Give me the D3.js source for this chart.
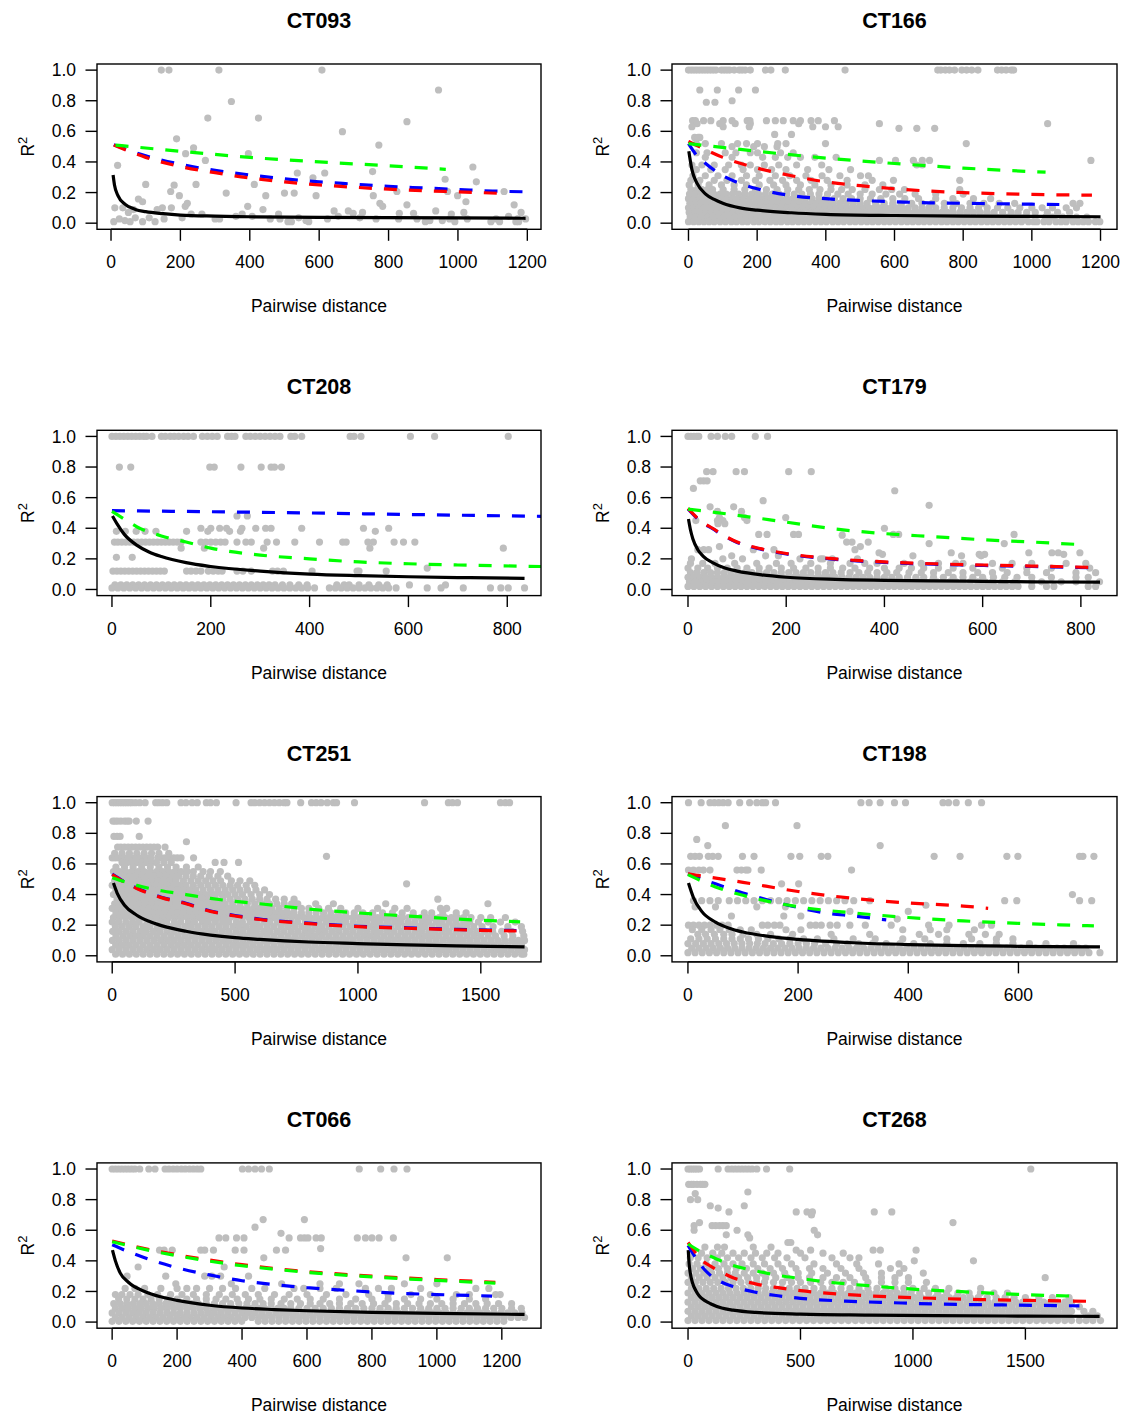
<!DOCTYPE html>
<meta charset="utf-8">
<style>

body {
  margin: 0;
  background: #fff;
}

text {
  font-family: "Liberation Sans", Arial, sans-serif;
  fill: #000;
}

.title {
  font-weight: bold;
  font-size: 21.5px;
  text-anchor: middle;
}

.tick-label {
  font-size: 17.5px;
}

</style>
<body>
<script src="https://d3js.org/d3.v7.min.js"></script>
<script>

// ---- data: panel names, x ranges and tick values ----
var names = ["CT093", "CT166", "CT208", "CT179", "CT251", "CT198", "CT066", "CT268"];

var xRanges = [[7, 1192], [0, 1200], [3, 835], [1, 840], [5, 1678], [1, 749], [4, 1270], [2, 1834]];

var xTickVals = [
  [0, 200, 400, 600, 800, 1000, 1200],
  [0, 200, 400, 600, 800, 1000, 1200],
  [0, 200, 400, 600, 800],
  [0, 200, 400, 600, 800],
  [0, 500, 1000, 1500],
  [0, 200, 400, 600],
  [0, 200, 400, 600, 800, 1000, 1200],
  [0, 500, 1000, 1500]
];

var yTickVals = [0, 0.2, 0.4, 0.6, 0.8, 1.0];

// ---- scatter points, one row per R2 level: [r2, distance, distance, ...] ----
var pts_CT093 = [
  [1.0, 145, 167, 311, 608],
  [0.87, 944], [0.795, 347], [0.687, 279, 425], [0.663, 853], [0.598, 667], [0.551, 189],
  [0.51, 772], [0.492, 238], [0.454, 215, 396], [0.41, 272], [0.378, 19], [0.367, 1043],
  [0.337, 754], [0.328, 537, 616], [0.296, 582], [0.287, 963], [0.27, 1053],
  [0.253, 100, 245, 413], [0.248, 182], [0.207, 172, 824, 970, 1133], [0.197, 332, 500, 528],
  [0.18, 197, 446, 591, 756, 999], [0.158, 79], [0.14, 91, 1023], [0.13, 220, 775],
  [0.12, 853, 1162], [0.11, 214, 394, 783], [0.10, 11, 34, 148, 174], [0.089, 65, 133, 438],
  [0.08, 643, 684, 936], [0.07, 50, 725, 1017, 1182], [0.065, 698, 831, 872],
  [0.06, 231, 262, 378, 483, 981], [0.045, 360, 407, 655, 1146], [0.035, 205, 541, 717, 70, 110],
  [0.028, 24, 153, 300, 313, 459, 487, 624, 764, 829, 882, 976, 1027, 1110, 1172, 1195],
  [0.017, 562, 919, 955, 40],
  [0.01, 8, 55, 91, 127, 510, 520, 570, 906, 991, 1095, 1120, 1167, 1175]
];

var pts_CT166 = [
  [1.0, 0, 8, 16, 24, 32, 40, 48, 56, 64, 72, 80, 96, 104, 112, 120, 133, 148, 156, 165, 180, 224, 240, 282, 456, 726, 735, 748, 760, 775, 796, 810, 825, 843, 900, 912, 925, 940, 947],
  [0.87, 33, 84, 146, 195], [0.8, 127], [0.79, 52, 77],
  [0.67, 12, 20, 44, 65, 101, 127, 171, 179, 227, 253, 276, 305, 326, 357, 378, 425],
  [0.65, 25, 91, 136, 180, 321, 556, 1046],
  [0.63, 10, 101, 177, 362, 399, 436], [0.62, 613, 665, 717],
  [0.58, 251, 300], [0.56, 18, 28, 33],
  [0.52, 23, 49, 96, 143, 169, 201, 260, 284, 399, 809],
  [0.5, 127, 190, 221, 258],
  [0.46, 23, 54, 107, 138, 180, 201, 268, 305],
  [0.43, 49, 127, 216, 253, 289, 326, 368, 430],
  [0.41, 556, 603, 655, 681, 702, 1172],
  [0.38, 10, 39, 75, 117, 154, 180, 221, 263, 315, 388, 665, 681],
  [0.35, 23, 65, 107, 159, 201, 242, 284, 347, 409, 472],
  [0.31, 13, 49, 86, 127, 169, 206, 253, 295, 342, 389, 441, 501, 524],
  [0.28, 7, 33, 75, 112, 154, 195, 237, 274, 315, 357, 404, 462, 535, 597, 790],
  [0.25, 2, 28, 60, 96, 133, 169, 206, 248, 284, 326, 368, 415, 462, 514, 566],
  [0.22, 7, 25, 39, 55, 70, 101, 133, 164, 195, 227, 258, 289, 321, 352, 383, 415, 446, 477, 514, 556, 592, 629, 790],
  [0.19, 3, 20, 38, 56, 74, 92, 110, 128, 146, 165, 184, 204, 224, 244, 264, 286, 308, 330, 355, 380, 405, 435, 465, 500, 535, 575, 615, 660, 720, 800],
  [0.16, 0, 16, 32, 48, 64, 80, 96, 112, 128, 144, 160, 178, 196, 214, 232, 250, 268, 286, 304, 322, 340, 360, 380, 400, 425, 450, 475, 500, 530, 560, 595, 630, 670, 720, 770, 830, 880],
  [0.13, 4, 20, 36, 52, 68, 84, 100, 116, 132, 148, 164, 180, 196, 212, 228, 244, 260, 276, 292, 308, 324, 340, 356, 372, 388, 404, 420, 440, 460, 480, 500, 520, 545, 570, 595, 620, 650, 680, 710, 745, 780, 820, 860, 905, 950, 1120, 1140],
  [0.10, 0, 14, 30, 46, 62, 78, 94, 110, 126, 142, 158, 174, 190, 206, 222, 238, 254, 270, 286, 302, 318, 334, 350, 366, 382, 398, 414, 430, 446, 462, 478, 494, 510, 526, 542, 558, 574, 590, 606, 622, 640, 660, 680, 700, 720, 745, 770, 795, 820, 845, 870, 900, 930, 965, 1000, 1030, 1060, 1100, 1130],
  [0.07, 2, 18, 33, 50, 66, 82, 98, 114, 130, 146, 162, 178, 194, 210, 226, 242, 258, 274, 290, 306, 322, 338, 354, 370, 386, 402, 418, 434, 450, 466, 482, 498, 514, 530, 546, 562, 578, 594, 610, 626, 642, 658, 674, 690, 706, 722, 738, 754, 770, 790, 810, 830, 850, 870, 890, 915, 940, 960, 985, 1010, 1045, 1075, 1110],
  [0.04, 5, 20, 38, 55, 70, 88, 103, 120, 135, 150, 168, 185, 200, 217, 233, 250, 265, 282, 298, 315, 330, 347, 363, 380, 397, 413, 430, 447, 463, 480, 497, 513, 530, 547, 563, 580, 597, 613, 630, 647, 663, 680, 697, 713, 730, 747, 763, 780, 797, 813, 830, 847, 863, 880, 897, 913, 930, 947, 963, 980, 1040, 1060, 1090, 1110, 1130, 1160],
  [0.01, 0, 15, 30, 45, 60, 75, 92, 108, 125, 140, 157, 172, 190, 205, 222, 238, 255, 270, 288, 303, 320, 336, 352, 370, 386, 402, 420, 436, 452, 470, 486, 503, 520, 536, 553, 570, 586, 603, 620, 637, 653, 670, 686, 703, 720, 737, 753, 770, 786, 803, 820, 836, 853, 870, 886, 903, 920, 936, 953, 970, 990, 1005, 1015, 1035, 1050, 1070, 1085, 1100, 1120, 1135, 1150, 1165, 1185, 1198]
];

var pts_CT208 = [
  [1.0, 0, 8, 16, 24, 32, 40, 48, 56, 64, 70, 81, 100, 108, 118, 126, 135, 145, 154, 165, 183, 193, 203, 213, 234, 242, 249, 271, 280, 290, 300, 310, 320, 330, 340, 362, 370, 384, 482, 490, 504, 604, 653, 802],
  [0.8, 15, 38, 198, 207, 261, 302, 322, 329, 343],
  [0.48, 253, 274],
  [0.40, 180, 200, 218, 232, 263, 291, 311, 322, 384, 509, 560],
  [0.38, 9, 27, 49, 67, 89, 151, 194, 238, 260, 533],
  [0.31, 5, 12, 20, 28, 36, 44, 52, 60, 68, 76, 84, 92, 100, 108, 116, 124, 132, 140, 180, 190, 200, 210, 220, 229, 253, 271, 282, 314, 333, 370, 420, 467, 474, 518, 529, 571, 590, 613],
  [0.27, 140, 187, 307, 522, 792],
  [0.21, 9, 41], [0.14, 638],
  [0.12, 2, 10, 18, 26, 34, 42, 50, 58, 66, 74, 82, 90, 98, 106, 151, 160, 170, 180, 195, 205, 215, 223, 253, 265, 282, 325, 335, 347, 405, 496, 500, 555],
  [0.03, 6, 18, 30, 42, 54, 66, 78, 90, 102, 114, 126, 138, 150, 162, 174, 186, 198, 210, 222, 234, 246, 258, 270, 282, 294, 306, 318, 330, 345, 360, 378, 395, 455, 470, 480, 500, 520, 540, 557, 602, 675],
  [0.01, 0, 12, 24, 36, 48, 60, 72, 84, 96, 108, 120, 132, 144, 156, 168, 180, 192, 204, 216, 228, 240, 252, 264, 276, 288, 300, 312, 324, 336, 348, 360, 372, 384, 396, 410, 440, 452, 464, 476, 488, 500, 512, 524, 536, 548, 560, 575, 638, 666, 711, 766, 787, 802, 835]
];

var pts_CT179 = [
  [1.0, 0, 6, 12, 18, 22, 47, 60, 76, 89, 137, 162],
  [0.77, 38, 51, 98, 115, 205, 251], [0.71, 25, 32, 39], [0.66, 11], [0.645, 421],
  [0.58, 153], [0.55, 491], [0.54, 45, 93], [0.51, 60, 109], [0.47, 64, 115, 199],
  [0.45, 16, 60, 71, 120], [0.43, 61, 75], [0.40, 400],
  [0.36, 144, 161, 215, 225, 418, 429, 664], [0.355, 314],
  [0.31, 323, 334, 367], [0.30, 491, 644], [0.28, 64, 351],
  [0.26, 20, 32, 42, 133, 175, 340],
  [0.24, 389, 536, 694, 741, 754, 798], [0.23, 396, 593, 604, 765],
  [0.22, 89, 158, 184, 458, 557, 597],
  [0.2, 7, 71, 111, 228, 270, 275, 294, 345],
  [0.17, 5, 30, 55, 95, 140, 180, 210, 250, 290, 330, 360, 385, 440, 475, 510, 545, 560, 620, 660, 700, 770, 810],
  [0.14, 0, 20, 40, 60, 80, 100, 120, 145, 165, 190, 215, 240, 265, 290, 315, 340, 370, 400, 430, 455, 480, 510, 540, 580, 640, 690, 740, 818],
  [0.11, 5, 18, 32, 46, 60, 74, 88, 102, 116, 130, 145, 160, 175, 190, 205, 220, 235, 250, 265, 280, 295, 312, 330, 348, 366, 385, 405, 425, 450, 475, 500, 530, 560, 590, 620, 650, 690, 730, 790, 830],
  [0.08, 0, 12, 24, 36, 48, 60, 72, 84, 96, 108, 120, 132, 144, 156, 168, 180, 192, 204, 216, 228, 240, 252, 264, 276, 288, 300, 314, 328, 342, 356, 370, 385, 400, 415, 430, 447, 464, 480, 500, 520, 540, 560, 580, 600, 622, 645, 670, 700, 740, 790, 815],
  [0.05, 3, 15, 27, 39, 51, 63, 75, 87, 99, 111, 123, 135, 147, 159, 171, 183, 195, 207, 219, 231, 243, 255, 267, 279, 291, 303, 315, 327, 339, 351, 363, 375, 387, 399, 411, 423, 435, 447, 459, 471, 483, 495, 507, 520, 533, 546, 560, 575, 590, 605, 620, 640, 665, 700, 720, 760, 790, 838],
  [0.02, 0, 12, 24, 36, 48, 60, 72, 84, 96, 108, 120, 132, 144, 156, 168, 180, 192, 204, 216, 228, 240, 252, 264, 276, 288, 300, 312, 324, 336, 348, 360, 372, 384, 396, 408, 420, 432, 444, 456, 468, 480, 492, 504, 516, 528, 540, 552, 564, 576, 588, 600, 612, 624, 636, 648, 660, 672, 700, 730, 745, 815, 830]
];

var pts_CT251 = [
  [1.0, 0, 10, 20, 30, 40, 50, 60, 70, 80, 95, 112, 134, 177, 190, 205, 222, 280, 300, 325, 346, 383, 400, 424, 504, 565, 580, 600, 620, 640, 660, 680, 700, 711, 767, 811, 830, 850, 875, 900, 913, 986, 1271, 1368, 1385, 1405, 1580, 1600, 1617],
  [0.88, 3, 12, 22, 35, 50, 60, 69, 98, 146],
  [0.78, 7, 20, 32, 110], [0.745, 302],
  [0.71, 22, 35, 50, 65, 80, 95, 110, 125, 140, 155, 170, 185, 215],
  [0.67, 10, 40, 70, 100, 130, 160, 190, 230],
  [0.65, 872],
  [0.64, 0, 12, 25, 38, 50, 65, 80, 95, 110, 125, 140, 156, 185, 200, 215, 230, 250, 265, 280, 331],
  [0.61, 40, 60, 80, 100, 120, 140, 160, 180, 210, 240, 419, 455, 514],
  [0.58, 15, 50, 85, 120, 155, 190, 225, 260, 302, 350],
  [0.55, 5, 30, 55, 80, 105, 130, 155, 180, 205, 230, 255, 280, 305, 330, 370, 400, 440],
  [0.52, 20, 45, 70, 95, 120, 145, 170, 195, 220, 245, 270, 300, 330, 360, 395, 430, 470],
  [0.49, 10, 35, 60, 85, 110, 135, 160, 185, 210, 235, 260, 290, 320, 350, 380, 410, 441, 485, 520, 560],
  [0.47, 1198],
  [0.46, 0, 25, 50, 75, 100, 125, 150, 175, 200, 225, 250, 275, 300, 330, 360, 390, 420, 450, 480, 510, 545, 580],
  [0.43, 15, 40, 65, 90, 115, 140, 165, 190, 215, 240, 265, 290, 315, 340, 370, 400, 430, 460, 490, 520, 550, 585, 620],
  [0.40, 5, 30, 55, 80, 105, 130, 155, 180, 205, 230, 255, 280, 305, 330, 355, 380, 405, 419, 445, 470, 500, 530, 565, 600, 640],
  [0.37, 20, 45, 70, 95, 120, 145, 170, 195, 220, 245, 270, 295, 320, 345, 370, 395, 420, 450, 480, 510, 540, 570, 600, 630, 665, 700, 740, 1325],
  [0.34, 10, 35, 60, 85, 110, 135, 160, 185, 210, 235, 260, 285, 310, 335, 360, 385, 410, 435, 460, 490, 520, 550, 580, 610, 640, 670, 700, 730, 755, 828, 900, 1113, 1529],
  [0.31, 0, 25, 50, 75, 100, 125, 150, 175, 200, 225, 250, 275, 300, 325, 350, 375, 400, 425, 450, 475, 500, 525, 550, 575, 600, 625, 650, 680, 710, 740, 770, 800, 840, 880, 930, 1000, 1080, 1150, 1200, 1336, 1361],
  [0.28, 15, 40, 65, 90, 115, 140, 165, 190, 215, 240, 265, 290, 315, 340, 365, 390, 415, 440, 465, 490, 515, 540, 565, 590, 615, 640, 665, 690, 715, 740, 770, 800, 830, 860, 890, 920, 950, 985, 1020, 1060, 1100, 1140, 1180, 1225, 1270, 1300, 1345, 1400, 1440],
  [0.25, 5, 30, 55, 80, 105, 130, 155, 180, 205, 230, 255, 280, 305, 330, 355, 380, 405, 430, 455, 480, 505, 530, 555, 580, 605, 630, 655, 680, 705, 730, 755, 780, 805, 830, 855, 880, 905, 930, 955, 980, 1005, 1030, 1055, 1080, 1105, 1130, 1155, 1180, 1205, 1230, 1255, 1280, 1305, 1330, 1355, 1380, 1405, 1430, 1460, 1500, 1540, 1600],
  [0.22, 0, 26, 55, 83, 110, 141, 167, 197, 222, 253, 279, 310, 335, 366, 391, 420, 449, 474, 505, 530, 561, 587, 617, 642, 672, 699, 729, 755, 786, 812, 840, 869, 896, 925, 951, 981, 1008, 1035, 1064, 1091, 1120, 1149, 1176, 1205, 1232, 1261, 1287, 1317, 1343, 1372, 1400, 1430, 1455, 1490, 1530, 1580, 1640],
  [0.19, 13, 41, 70, 97, 127, 153, 183, 209, 239, 266, 295, 322, 350, 379, 406, 435, 462, 491, 518, 546, 575, 602, 631, 658, 687, 714, 742, 771, 798, 827, 854, 882, 911, 938, 967, 994, 1022, 1051, 1078, 1107, 1134, 1162, 1191, 1218, 1247, 1274, 1302, 1331, 1358, 1387, 1414, 1442, 1471, 1505, 1550, 1610, 1665],
  [0.16, 2, 29, 57, 84, 113, 139, 168, 195, 224, 251, 280, 307, 336, 363, 392, 419, 448, 475, 504, 531, 560, 587, 616, 643, 672, 699, 728, 755, 784, 811, 840, 867, 896, 923, 952, 979, 1008, 1035, 1064, 1091, 1120, 1147, 1176, 1203, 1232, 1259, 1288, 1315, 1344, 1371, 1400, 1427, 1456, 1483, 1515, 1548, 1585, 1625, 1670],
  [0.13, 15, 43, 71, 99, 127, 155, 183, 211, 239, 267, 295, 323, 351, 379, 407, 435, 463, 491, 519, 547, 575, 603, 631, 659, 687, 715, 743, 771, 799, 827, 855, 883, 911, 939, 967, 995, 1023, 1051, 1079, 1107, 1135, 1163, 1191, 1219, 1247, 1275, 1303, 1331, 1359, 1387, 1415, 1443, 1471, 1499, 1530, 1560, 1595, 1630, 1675],
  [0.10, 1, 29, 57, 85, 113, 141, 169, 197, 225, 253, 281, 309, 337, 365, 393, 421, 449, 477, 505, 533, 561, 589, 617, 645, 673, 701, 729, 757, 785, 813, 841, 869, 897, 925, 953, 981, 1009, 1037, 1065, 1093, 1121, 1149, 1177, 1205, 1233, 1261, 1289, 1317, 1345, 1373, 1401, 1429, 1457, 1485, 1513, 1541, 1569, 1597, 1625, 1653, 1678],
  [0.07, 14, 42, 70, 98, 126, 154, 182, 210, 238, 266, 294, 322, 350, 378, 406, 434, 462, 490, 518, 546, 574, 602, 630, 658, 686, 714, 742, 770, 798, 826, 854, 882, 910, 938, 966, 994, 1022, 1050, 1078, 1106, 1134, 1162, 1190, 1218, 1246, 1274, 1302, 1330, 1358, 1386, 1414, 1442, 1470, 1498, 1526, 1554, 1582, 1610, 1638, 1666],
  [0.04, 0, 28, 56, 84, 112, 140, 168, 196, 224, 252, 280, 308, 336, 364, 392, 420, 448, 476, 504, 532, 560, 588, 616, 644, 672, 700, 728, 756, 784, 812, 840, 868, 896, 924, 952, 980, 1008, 1036, 1064, 1092, 1120, 1148, 1176, 1204, 1232, 1260, 1288, 1316, 1344, 1372, 1400, 1428, 1456, 1484, 1512, 1540, 1568, 1596, 1624, 1652, 1678],
  [0.01, 14, 42, 70, 98, 126, 154, 182, 210, 238, 266, 294, 322, 350, 378, 406, 434, 462, 490, 518, 546, 574, 602, 630, 658, 686, 714, 742, 770, 798, 826, 854, 882, 910, 938, 966, 994, 1022, 1050, 1078, 1106, 1134, 1162, 1190, 1218, 1246, 1274, 1302, 1330, 1358, 1386, 1414, 1442, 1470, 1498, 1526, 1554, 1582, 1610, 1638, 1666, 1675]
];

var pts_CT198 = [
  [1.0, 1, 24, 40, 48, 56, 64, 73, 94, 112, 125, 135, 141, 159, 314, 329, 349, 375, 395, 463, 473, 487, 509, 533],
  [0.85, 68, 198], [0.76, 16], [0.72, 36, 349],
  [0.65, 5, 13, 21, 37, 45, 55, 99, 120, 187, 203, 242, 254, 447, 494, 579, 599, 711, 717, 737],
  [0.56, 1, 10, 20, 28, 40, 89, 97, 105, 109, 133, 297],
  [0.47, 170, 201], [0.4, 698],
  [0.36, 10, 25, 40, 55, 75, 90, 105, 120, 135, 150, 165, 180, 195, 210, 225, 240, 255, 270, 285, 301, 330, 575, 597, 711, 733],
  [0.33, 432], [0.32, 13, 50, 125, 177], [0.29, 294, 400], [0.26, 79, 174, 205], [0.24, 380],
  [0.2, 1, 10, 20, 30, 40, 52, 62, 73, 135, 145, 157, 167, 222, 232, 242, 258, 271, 294, 322, 369, 437, 474, 533, 551],
  [0.17, 8, 25, 42, 58, 75, 95, 115, 178, 205, 390, 440, 470, 520],
  [0.14, 18, 32, 48, 65, 80, 100, 125, 150, 190, 260, 330, 420, 455, 510, 540, 565],
  [0.11, 5, 20, 35, 50, 65, 80, 95, 110, 128, 145, 165, 185, 210, 235, 265, 300, 340, 390, 430, 470, 515, 560, 590],
  [0.08, 0, 14, 28, 42, 56, 70, 84, 98, 112, 126, 140, 155, 170, 185, 200, 215, 230, 250, 270, 290, 310, 335, 360, 385, 410, 440, 470, 500, 530, 560, 590, 620, 650, 700],
  [0.05, 7, 20, 33, 46, 59, 72, 85, 98, 111, 124, 137, 150, 163, 176, 189, 202, 215, 228, 241, 254, 267, 280, 293, 306, 319, 332, 345, 358, 371, 384, 397, 410, 423, 436, 449, 462, 475, 488, 501, 514, 527, 540, 553, 566, 579, 592, 605, 618, 631, 644, 657, 670, 683, 696, 709, 722],
  [0.02, 0, 13, 26, 39, 52, 65, 78, 91, 104, 117, 130, 143, 156, 169, 182, 195, 208, 221, 234, 247, 260, 273, 286, 299, 312, 325, 338, 351, 364, 377, 390, 403, 416, 429, 442, 455, 468, 481, 494, 507, 520, 533, 546, 559, 572, 585, 598, 611, 624, 637, 650, 663, 676, 689, 702, 715, 728, 748]
];

var pts_CT066 = [
  [1.0, 0, 10, 20, 30, 40, 50, 60, 70, 85, 113, 132, 163, 175, 188, 200, 213, 225, 238, 250, 262, 273, 401, 420, 440, 460, 484, 761, 827, 868, 908],
  [0.67, 465, 592], [0.62, 440], [0.58, 520],
  [0.55, 329, 350, 383, 406, 545, 580, 592, 603, 628, 644, 755, 780, 800, 822, 866],
  [0.48, 642],
  [0.47, 146, 160, 185, 273, 285, 312, 379, 406, 506, 534],
  [0.42, 467, 905, 1032], [0.36, 80, 345],
  [0.3, 46, 165, 285, 307, 334, 420],
  [0.25, 196, 367, 522, 640, 700, 760, 900, 1000],
  [0.22, 40, 70, 100, 150, 200, 230, 260, 300, 340, 380, 430, 470, 560, 590, 640, 690, 780, 820, 860, 950, 1120, 1160],
  [0.18, 10, 30, 55, 80, 110, 140, 180, 215, 250, 290, 330, 370, 410, 450, 500, 545, 600, 660, 720, 790, 850, 920, 980, 1060, 1100, 1181, 1195],
  [0.15, 20, 45, 70, 95, 120, 145, 170, 200, 230, 260, 290, 320, 350, 385, 420, 455, 490, 530, 570, 610, 650, 700, 750, 800, 850, 900, 950, 1000, 1050, 1100, 1150],
  [0.12, 5, 25, 45, 65, 85, 105, 125, 145, 165, 185, 205, 225, 245, 265, 290, 315, 340, 365, 390, 415, 440, 465, 490, 520, 550, 580, 610, 640, 670, 700, 735, 770, 805, 840, 875, 910, 945, 980, 1015, 1050, 1085, 1120, 1155, 1190, 1230],
  [0.09, 10, 30, 50, 70, 90, 110, 130, 150, 170, 190, 210, 230, 250, 270, 290, 310, 330, 350, 370, 390, 410, 430, 450, 470, 490, 510, 530, 550, 575, 600, 625, 650, 675, 700, 725, 750, 775, 800, 825, 850, 875, 900, 925, 950, 975, 1000, 1025, 1050, 1075, 1100, 1125, 1150, 1175, 1200, 1230, 1260],
  [0.06, 0, 21, 42, 63, 84, 105, 126, 147, 168, 189, 210, 231, 252, 273, 294, 315, 336, 357, 378, 399, 420, 441, 462, 483, 504, 525, 546, 567, 588, 609, 630, 651, 672, 693, 714, 735, 756, 777, 798, 819, 840, 861, 882, 903, 924, 945, 966, 987, 1008, 1029, 1050, 1071, 1092, 1113, 1134, 1155, 1176, 1197, 1218, 1240, 1262],
  [0.03, 10, 31, 52, 73, 94, 115, 136, 157, 178, 199, 220, 241, 262, 283, 304, 325, 346, 367, 388, 409, 430, 451, 472, 493, 514, 535, 556, 577, 598, 619, 640, 661, 682, 703, 724, 745, 766, 787, 808, 829, 850, 871, 892, 913, 934, 955, 976, 997, 1018, 1039, 1060, 1081, 1102, 1123, 1144, 1165, 1186, 1207, 1228, 1250, 1270],
  [0.005, 0, 21, 42, 63, 84, 105, 126, 147, 168, 189, 210, 231, 252, 273, 294, 315, 336, 357, 378, 399, 450, 471, 492, 513, 534, 555, 576, 597, 618, 639, 660, 681, 702, 723, 744, 765, 786, 807, 828, 849, 870, 891, 912, 933, 954, 975, 996, 1017, 1038, 1059, 1080, 1101, 1122, 1143, 1164, 1185, 1206]
];

var pts_CT268 = [
  [1.0, 0, 10, 20, 30, 40, 51, 134, 178, 195, 210, 225, 240, 255, 270, 285, 306, 349, 452, 1524],
  [0.9, 3, 15, 25, 40, 55, 65, 75], [0.85, 266], [0.84, 32], [0.8, 11, 43],
  [0.76, 99, 250], [0.745, 134], [0.72, 182, 481, 529, 553, 828, 906], [0.7, 549],
  [0.65, 51, 1178], [0.63, 27, 107, 123, 140, 155, 170], [0.6, 27, 218, 561],
  [0.57, 170, 266, 576], [0.55, 274], [0.52, 444, 457],
  [0.49, 75, 131, 162, 290, 369], [0.47, 481, 545, 823, 855, 1014],
  [0.45, 20, 60, 110, 150, 200, 250, 300, 350, 400, 500, 600, 690],
  [0.42, 10, 45, 85, 130, 175, 225, 280, 330, 385, 440, 520, 640, 720, 760],
  [0.4, 1006, 1269],
  [0.38, 5, 40, 80, 120, 160, 200, 240, 290, 340, 400, 460, 560, 660, 750, 847, 938],
  [0.35, 20, 55, 95, 135, 175, 215, 260, 310, 365, 420, 480, 540, 600, 680, 760, 900, 960],
  [0.32, 0, 35, 70, 105, 140, 175, 210, 250, 290, 330, 380, 430, 490, 550, 620, 700, 780, 860, 940, 1046],
  [0.29, 15, 50, 85, 120, 155, 190, 225, 265, 305, 345, 390, 440, 490, 540, 600, 660, 720, 790, 860, 920, 980, 1588],
  [0.26, 0, 33, 66, 99, 132, 165, 200, 235, 270, 305, 340, 380, 420, 460, 500, 545, 590, 640, 690, 740, 800, 860, 920, 980, 1060],
  [0.22, 15, 48, 81, 114, 147, 180, 213, 246, 279, 312, 345, 380, 415, 450, 485, 520, 560, 600, 640, 680, 720, 760, 800, 840, 880, 920, 960, 1000, 1050, 1100, 1160, 1301],
  [0.19, 0, 31, 62, 93, 124, 155, 186, 217, 248, 279, 310, 341, 372, 403, 434, 465, 496, 527, 558, 589, 620, 651, 682, 713, 744, 775, 806, 837, 868, 899, 930, 961, 992, 1030, 1070, 1110, 1150, 1200, 1250, 1300, 1360, 1420],
  [0.16, 15, 46, 77, 108, 139, 170, 201, 232, 263, 294, 325, 356, 387, 418, 449, 480, 511, 542, 573, 604, 635, 666, 697, 728, 759, 790, 821, 852, 883, 914, 945, 976, 1007, 1038, 1069, 1100, 1131, 1162, 1193, 1224, 1255, 1290, 1330, 1370, 1410, 1450, 1500, 1560, 1620, 1694],
  [0.13, 0, 31, 62, 93, 124, 155, 186, 217, 248, 279, 310, 341, 372, 403, 434, 465, 496, 527, 558, 589, 620, 651, 682, 713, 744, 775, 806, 837, 868, 899, 930, 961, 992, 1023, 1054, 1085, 1116, 1147, 1178, 1209, 1240, 1271, 1302, 1333, 1364, 1395, 1426, 1457, 1488, 1519, 1550, 1581, 1612, 1643, 1675, 1705],
  [0.10, 15, 46, 77, 108, 139, 170, 201, 232, 263, 294, 325, 356, 387, 418, 449, 480, 511, 542, 573, 604, 635, 666, 697, 728, 759, 790, 821, 852, 883, 914, 945, 976, 1007, 1038, 1069, 1100, 1131, 1162, 1193, 1224, 1255, 1286, 1317, 1348, 1379, 1410, 1441, 1472, 1503, 1534, 1565, 1596, 1627, 1660, 1690, 1740],
  [0.07, 0, 31, 62, 93, 124, 155, 186, 217, 248, 279, 310, 341, 372, 403, 434, 465, 496, 527, 558, 589, 620, 651, 682, 713, 744, 775, 806, 837, 868, 899, 930, 961, 992, 1023, 1054, 1085, 1116, 1147, 1178, 1209, 1240, 1271, 1302, 1333, 1364, 1395, 1426, 1457, 1488, 1519, 1550, 1581, 1612, 1643, 1675, 1705, 1760, 1800],
  [0.04, 15, 46, 77, 108, 139, 170, 201, 232, 263, 294, 325, 356, 387, 418, 449, 480, 511, 542, 573, 604, 635, 666, 697, 728, 759, 790, 821, 852, 883, 914, 945, 976, 1007, 1038, 1069, 1100, 1131, 1162, 1193, 1224, 1255, 1286, 1317, 1348, 1379, 1410, 1441, 1472, 1503, 1534, 1565, 1596, 1627, 1660, 1690, 1780, 1820],
  [0.01, 0, 31, 62, 93, 124, 155, 186, 217, 248, 279, 310, 341, 372, 403, 434, 465, 496, 527, 558, 589, 620, 651, 682, 713, 744, 775, 806, 837, 868, 899, 930, 961, 992, 1023, 1054, 1085, 1116, 1147, 1178, 1209, 1240, 1271, 1302, 1333, 1364, 1395, 1426, 1457, 1488, 1519, 1550, 1581, 1612, 1643, 1675, 1705, 1740, 1770, 1800, 1834]
];

// ---- fitted decay curves, [distance, r2] ----
var black_CT093 = [[6, 0.315], [10, 0.25], [20, 0.18], [40, 0.125], [70, 0.09], [100, 0.075], [150, 0.062], [200, 0.053], [300, 0.046], [400, 0.042], [600, 0.038], [800, 0.036], [1000, 0.034], [1195, 0.032]];
var red_CT093 = [[8, 0.51], [100, 0.43], [200, 0.37], [300, 0.33], [400, 0.295], [500, 0.27], [600, 0.25], [700, 0.235], [800, 0.222], [900, 0.212], [1000, 0.205], [1120, 0.195]];
var blue_CT093 = [[8, 0.512], [100, 0.44], [200, 0.385], [300, 0.345], [400, 0.315], [500, 0.29], [600, 0.27], [700, 0.255], [800, 0.24], [900, 0.23], [1000, 0.22], [1100, 0.21], [1190, 0.205]];
var green_CT093 = [[13, 0.51], [200, 0.47], [400, 0.43], [600, 0.40], [800, 0.375], [965, 0.352]];

var black_CT166 = [[1, 0.47], [10, 0.35], [25, 0.26], [50, 0.19], [75, 0.155], [100, 0.13], [150, 0.10], [200, 0.085], [300, 0.068], [400, 0.058], [600, 0.05], [800, 0.046], [1000, 0.044], [1200, 0.042]];
var red_CT166 = [[0, 0.535], [50, 0.48], [100, 0.43], [200, 0.36], [300, 0.31], [400, 0.27], [500, 0.245], [600, 0.225], [700, 0.21], [800, 0.2], [900, 0.193], [1000, 0.188], [1175, 0.183]];
var blue_CT166 = [[0, 0.52], [25, 0.44], [50, 0.39], [100, 0.31], [150, 0.26], [200, 0.225], [300, 0.18], [400, 0.16], [500, 0.148], [600, 0.14], [700, 0.133], [800, 0.13], [900, 0.127], [1000, 0.124], [1080, 0.122]];
var green_CT166 = [[0, 0.52], [200, 0.47], [400, 0.425], [600, 0.39], [800, 0.36], [1040, 0.333]];

var black_CT208 = [[1, 0.48], [10, 0.43], [25, 0.36], [50, 0.29], [75, 0.245], [100, 0.215], [150, 0.175], [200, 0.15], [300, 0.12], [400, 0.1], [500, 0.09], [600, 0.083], [700, 0.078], [835, 0.073]];
var red_CT208 = [];
var blue_CT208 = [[0, 0.515], [200, 0.508], [400, 0.5], [600, 0.49], [870, 0.478]];
var green_CT208 = [[0, 0.51], [25, 0.46], [50, 0.41], [100, 0.35], [150, 0.31], [200, 0.27], [300, 0.225], [400, 0.2], [500, 0.18], [600, 0.168], [700, 0.16], [870, 0.15]];

var black_CT179 = [[1, 0.46], [5, 0.39], [10, 0.33], [20, 0.26], [30, 0.22], [50, 0.175], [75, 0.14], [100, 0.12], [150, 0.095], [200, 0.08], [300, 0.066], [400, 0.06], [500, 0.056], [600, 0.053], [700, 0.05], [839, 0.048]];
var red_CT179 = [[0, 0.53], [25, 0.45], [50, 0.4], [75, 0.35], [100, 0.31], [150, 0.265], [200, 0.235], [300, 0.2], [400, 0.18], [500, 0.168], [600, 0.16], [700, 0.153], [815, 0.145]];
var blue_CT179 = [[0, 0.527], [25, 0.447], [50, 0.397], [75, 0.347], [100, 0.307], [150, 0.262], [200, 0.232], [300, 0.197], [400, 0.177], [500, 0.165], [600, 0.157], [700, 0.15], [815, 0.142]];
var green_CT179 = [[0, 0.525], [100, 0.485], [200, 0.44], [300, 0.395], [400, 0.365], [500, 0.345], [600, 0.325], [700, 0.31], [790, 0.295]];

var black_CT251 = [[5, 0.475], [20, 0.41], [50, 0.33], [100, 0.265], [150, 0.225], [200, 0.197], [300, 0.16], [400, 0.135], [500, 0.118], [600, 0.107], [800, 0.09], [1000, 0.08], [1200, 0.071], [1400, 0.065], [1678, 0.058]];
var red_CT251 = [[0, 0.53], [50, 0.48], [100, 0.44], [200, 0.38], [300, 0.34], [400, 0.29], [500, 0.26], [600, 0.237], [800, 0.21], [1000, 0.19], [1200, 0.18], [1400, 0.17], [1645, 0.162]];
var blue_CT251 = [[0, 0.533], [50, 0.483], [100, 0.443], [200, 0.383], [300, 0.343], [400, 0.293], [500, 0.263], [600, 0.24], [800, 0.213], [1000, 0.193], [1200, 0.183], [1400, 0.173], [1645, 0.165]];
var green_CT251 = [[0, 0.51], [100, 0.46], [200, 0.425], [300, 0.4], [400, 0.375], [500, 0.355], [600, 0.34], [800, 0.305], [1000, 0.28], [1200, 0.26], [1400, 0.24], [1660, 0.222]];

var black_CT198 = [[1, 0.475], [10, 0.38], [25, 0.29], [50, 0.22], [75, 0.18], [100, 0.155], [150, 0.125], [200, 0.107], [300, 0.085], [400, 0.073], [500, 0.066], [600, 0.062], [748, 0.058]];
var red_CT198 = [[0, 0.535], [100, 0.48], [200, 0.42], [300, 0.375], [400, 0.345], [500, 0.325], [545, 0.31]];
var blue_CT198 = [[0, 0.535], [50, 0.47], [100, 0.41], [150, 0.36], [200, 0.315], [250, 0.28], [300, 0.26], [360, 0.235]];
var green_CT198 = [[0, 0.53], [50, 0.45], [100, 0.395], [200, 0.32], [300, 0.28], [400, 0.25], [500, 0.228], [600, 0.212], [737, 0.195]];

var black_CT066 = [[1, 0.47], [10, 0.4], [25, 0.32], [50, 0.26], [100, 0.2], [150, 0.165], [200, 0.142], [300, 0.11], [400, 0.092], [500, 0.082], [600, 0.074], [800, 0.064], [1000, 0.057], [1270, 0.05]];
var red_CT066 = [[0, 0.53], [100, 0.48], [200, 0.44], [300, 0.405], [400, 0.375], [500, 0.35], [600, 0.33], [800, 0.3], [1000, 0.278], [1180, 0.26]];
var blue_CT066 = [[0, 0.505], [50, 0.46], [100, 0.42], [200, 0.355], [300, 0.308], [400, 0.27], [500, 0.245], [600, 0.225], [700, 0.21], [800, 0.197], [900, 0.187], [1000, 0.18], [1170, 0.17]];
var green_CT066 = [[0, 0.525], [100, 0.475], [200, 0.433], [300, 0.398], [400, 0.368], [500, 0.345], [600, 0.325], [800, 0.295], [1000, 0.272], [1180, 0.255]];

var black_CT268 = [[1, 0.47], [5, 0.38], [10, 0.32], [20, 0.255], [35, 0.205], [50, 0.17], [75, 0.14], [100, 0.12], [150, 0.092], [200, 0.078], [300, 0.063], [500, 0.052], [800, 0.046], [1100, 0.042], [1500, 0.039], [1830, 0.037]];
var red_CT268 = [[0, 0.52], [25, 0.47], [50, 0.42], [100, 0.365], [150, 0.325], [200, 0.29], [300, 0.25], [400, 0.225], [500, 0.205], [700, 0.18], [900, 0.165], [1100, 0.155], [1300, 0.147], [1500, 0.142], [1770, 0.136]];
var blue_CT268 = [[0, 0.5], [25, 0.44], [50, 0.385], [75, 0.34], [100, 0.305], [150, 0.26], [200, 0.232], [300, 0.195], [400, 0.172], [500, 0.155], [700, 0.137], [900, 0.127], [1100, 0.118], [1400, 0.112], [1740, 0.106]];
var green_CT268 = [[0, 0.51], [50, 0.465], [100, 0.43], [200, 0.37], [300, 0.335], [400, 0.305], [500, 0.285], [600, 0.265], [800, 0.238], [1000, 0.215], [1200, 0.2], [1400, 0.185], [1700, 0.17]];

var pointSets = [pts_CT093, pts_CT166, pts_CT208, pts_CT179, pts_CT251, pts_CT198, pts_CT066, pts_CT268];
var blackFits = [black_CT093, black_CT166, black_CT208, black_CT179, black_CT251, black_CT198, black_CT066, black_CT268];
var blueFits = [blue_CT093, blue_CT166, blue_CT208, blue_CT179, blue_CT251, blue_CT198, blue_CT066, blue_CT268];
var redFits = [red_CT093, red_CT166, red_CT208, red_CT179, red_CT251, red_CT198, red_CT066, red_CT268];
var greenFits = [green_CT093, green_CT166, green_CT208, green_CT179, green_CT251, green_CT198, green_CT066, green_CT268];

// ---- layout ----
var width = 1126, height = 1416;
var boxX = [[97, 541], [672, 1117]];
var boxTop = 64, boxH = 165.3, rowStep = 366.3;

var svg = d3.select("body").append("svg")
    .attr("width", width)
    .attr("height", height);

var fmtY = d3.format(".1f");

names.forEach(function(name, i) {
  var col = i % 2, row = Math.floor(i / 2);
  var left = boxX[col][0], right = boxX[col][1];
  var top = boxTop + row * rowStep, bottom = top + boxH;

  var xr = xRanges[i], pad = (xr[1] - xr[0]) * 0.04;
  var x = d3.scaleLinear().domain([xr[0] - pad, xr[1] + pad]).range([left, right]);
  var y = d3.scaleLinear().domain([-0.04, 1.04]).range([bottom, top]);

  var g = svg.append("g");

  svg.append("clipPath")
      .attr("id", "clip" + i)
    .append("rect")
      .attr("x", left)
      .attr("y", top)
      .attr("width", right - left)
      .attr("height", bottom - top);

  var plot = g.append("g").attr("clip-path", "url(#clip" + i + ")");

  var pts = [];
  pointSets[i].forEach(function(r) {
    r.slice(1).forEach(function(d) { pts.push([d, r[0]]); });
  });

  plot.selectAll("circle")
      .data(pts)
    .enter().append("circle")
      .attr("cx", function(d) { return x(d[0]); })
      .attr("cy", function(d) { return y(d[1]); })
      .attr("r", 3.6)
      .style("fill", "#bebebe");

  var line = d3.line()
      .x(function(d) { return x(d[0]); })
      .y(function(d) { return y(d[1]); })
      .curve(d3.curveMonotoneX);

  plot.append("path")
      .attr("d", line(blackFits[i]))
      .style("fill", "none")
      .style("stroke", "#000")
      .style("stroke-width", 3.2);

  [[blueFits[i], "#0000ff"], [redFits[i], "#ff0000"], [greenFits[i], "#00ff00"]].forEach(function(s) {
    if (!s[0].length) return;
    plot.append("path")
        .attr("d", line(s[0]))
        .style("fill", "none")
        .style("stroke", s[1])
        .style("stroke-width", 3.2)
        .style("stroke-dasharray", "13,12");
  });

  // box
  g.append("rect")
      .attr("x", left)
      .attr("y", top)
      .attr("width", right - left)
      .attr("height", bottom - top)
      .style("fill", "none")
      .style("stroke", "#000")
      .style("stroke-width", 1.4);

  // x axis
  var xt = xTickVals[i];
  g.append("line")
      .attr("x1", x(xt[0])).attr("x2", x(xt[xt.length - 1]))
      .attr("y1", bottom).attr("y2", bottom)
      .style("stroke", "#000").style("stroke-width", 1.4);
  g.selectAll(".xtick")
      .data(xt)
    .enter().append("line")
      .attr("x1", function(d) { return x(d); }).attr("x2", function(d) { return x(d); })
      .attr("y1", bottom).attr("y2", bottom + 11.5)
      .style("stroke", "#000").style("stroke-width", 1.4);
  g.selectAll(".xlab")
      .data(xt)
    .enter().append("text")
      .attr("class", "tick-label")
      .attr("x", function(d) { return x(d); })
      .attr("y", bottom + 39)
      .attr("text-anchor", "middle")
      .text(function(d) { return d; });

  // y axis
  g.selectAll(".ytick")
      .data(yTickVals)
    .enter().append("line")
      .attr("x1", left - 11.5).attr("x2", left)
      .attr("y1", function(d) { return y(d); }).attr("y2", function(d) { return y(d); })
      .style("stroke", "#000").style("stroke-width", 1.4);
  g.selectAll(".ylab")
      .data(yTickVals)
    .enter().append("text")
      .attr("class", "tick-label")
      .attr("x", left - 21)
      .attr("y", function(d) { return y(d); })
      .attr("dy", "0.35em")
      .attr("text-anchor", "end")
      .text(function(d) { return fmtY(d); });

  // titles
  g.append("text")
      .attr("class", "title")
      .attr("x", (left + right) / 2)
      .attr("y", top - 36)
      .text(name);

  g.append("text")
      .attr("class", "tick-label")
      .attr("x", (left + right) / 2)
      .attr("y", bottom + 83)
      .attr("text-anchor", "middle")
      .text("Pairwise distance");

  var yl = g.append("text")
      .attr("class", "tick-label")
      .attr("text-anchor", "middle")
      .attr("transform", "translate(" + (left - 63) + "," + ((top + bottom) / 2) + ") rotate(-90)");
  yl.append("tspan").text("R");
  yl.append("tspan").attr("dy", -7).style("font-size", "13px").text("2");
});

</script>
